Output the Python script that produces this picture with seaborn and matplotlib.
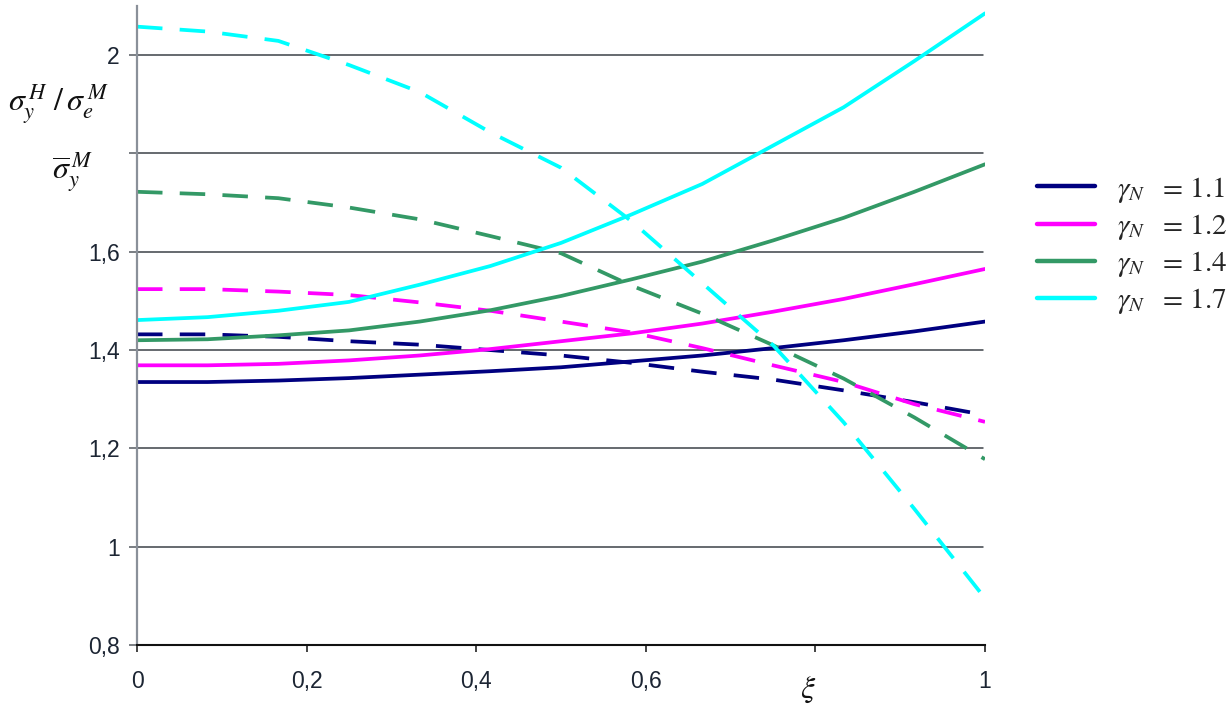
import numpy as np
import pandas as pd
import matplotlib
matplotlib.use("Agg")
import matplotlib.pyplot as plt
from matplotlib.lines import Line2D
import seaborn as sns

# Relative coordinate along the element
xi = [0, 1/12, 2/12, 3/12, 4/12, 5/12, 6/12, 7/12, 8/12, 9/12, 10/12, 11/12, 1]

# Solid curves: sigma_y^H / sigma_e^M
solid_11 = [1.335, 1.335, 1.338, 1.343, 1.350, 1.357, 1.365, 1.377, 1.389, 1.404, 1.420, 1.438, 1.458]
solid_12 = [1.369, 1.369, 1.372, 1.379, 1.389, 1.402, 1.418, 1.434, 1.454, 1.478, 1.504, 1.534, 1.565]
solid_14 = [1.420, 1.422, 1.430, 1.440, 1.458, 1.481, 1.510, 1.544, 1.580, 1.623, 1.669, 1.722, 1.778]
solid_17 = [1.461, 1.467, 1.480, 1.498, 1.533, 1.571, 1.618, 1.676, 1.738, 1.816, 1.894, 1.988, 2.085]

# Dashed curves: normalised yield stress sigma_y^M
dashed_11 = [1.432, 1.432, 1.427, 1.418, 1.411, 1.400, 1.389, 1.374, 1.356, 1.340, 1.318, 1.294, 1.268]
dashed_12 = [1.524, 1.524, 1.519, 1.512, 1.497, 1.480, 1.458, 1.436, 1.404, 1.369, 1.335, 1.290, 1.254]
dashed_14 = [1.722, 1.717, 1.709, 1.690, 1.666, 1.632, 1.597, 1.531, 1.474, 1.410, 1.342, 1.263, 1.178]
dashed_17 = [2.058, 2.048, 2.029, 1.980, 1.925, 1.843, 1.771, 1.662, 1.536, 1.410, 1.253, 1.077, 0.895]

gammas = ["1.1", "1.2", "1.4", "1.7"]
colors = ["#000080", "#FF00FF", "#339966", "#00FFFF"]

y_ticks = [0.8, 1.0, 1.2, 1.4, 1.6, 1.8, 2.0]
y_tick_labels = ["0,8", "1", "1,2", "1,4", "1,6", "", "2"]
x_ticks = [0, 0.2, 0.4, 0.6, 0.8, 1.0]
x_tick_labels = ["0", "0,2", "0,4", "0,6", "", "1"]

solids = [solid_11, solid_12, solid_14, solid_17]
dasheds = [dashed_11, dashed_12, dashed_14, dashed_17]

rows = []
for g, s, d in zip(gammas, solids, dasheds):
    for x, v in zip(xi, s):
        rows.append({"xi": x, "value": v, "gamma": g, "kind": "solid"})
    for x, v in zip(xi, d):
        rows.append({"xi": x, "value": v, "gamma": g, "kind": "dashed"})
df = pd.DataFrame(rows)

sns.set_theme(style="white")
plt.rcParams["font.family"] = ["Liberation Sans", "DejaVu Sans"]
plt.rcParams["mathtext.fontset"] = "stix"

fig = plt.figure(figsize=(12.29, 7.06), dpi=100)
ax = fig.add_axes([137 / 1229, 1 - 645 / 706, 848 / 1229, 639 / 706])

# horizontal grid
for yv in y_ticks[1:]:
    ax.axhline(yv, color="#3c4148", lw=1.1, zorder=0, xmax=0.998)

sns.lineplot(
    data=df, x="xi", y="value", hue="gamma", style="kind",
    palette=dict(zip(gammas, colors)),
    dashes={"solid": "", "dashed": (6.8, 4.6)},
    style_order=["solid", "dashed"],
    hue_order=gammas,
    linewidth=2.7, sort=False, estimator=None, legend=False, ax=ax,
)

ax.set_xlim(0, 1)
ax.set_ylim(0.8, 2.1)
ax.set_xticks(x_ticks)
ax.set_xticklabels(x_tick_labels)
ax.set_yticks(y_ticks)
ax.set_yticklabels(y_tick_labels)
ax.set_xlabel("")
ax.set_ylabel("")

for side in ["top", "right"]:
    ax.spines[side].set_visible(False)
ax.spines["left"].set_color("#8a9099")
ax.spines["left"].set_linewidth(1.6)
ax.spines["bottom"].set_color("#111111")
ax.spines["bottom"].set_linewidth(1.5)

ax.tick_params(axis="x", direction="out", length=5, width=1.1, color="#111111",
               pad=13, labelsize=16.5, labelcolor="#1c2533", bottom=True)
ax.tick_params(axis="y", direction="out", length=5.5, width=1.1, color="#555a60",
               pad=7, labelsize=16.5, labelcolor="#1c2533", left=True)

# axis titles written in the tick-label area
fig.text(8 / 1229, 1 - 104 / 706, r"$\sigma_y^{\,H}\ /\,\sigma_e^{\,M}$", fontsize=23,
         ha="left", va="center", color="#111111")
fig.text(52 / 1229, 1 - 172 / 706, r"$\overline{\sigma}_y^{\,M}$", fontsize=23,
         ha="left", va="center", color="#111111")
fig.text(808 / 1229, 1 - 690 / 706, r"$\xi$", fontsize=23, ha="center", va="center",
         color="#111111")

handles = [Line2D([], [], color=c, lw=3.2) for c in colors]
labels = [r"$\gamma_N\ \ {=}\,1.%s$" % g.split(".")[1] for g in gammas]
fig.legend(handles, labels, loc="upper left", bbox_to_anchor=(1022 / 1229, 1 - 160 / 706),
           frameon=False, fontsize=21, handlelength=2.0, handletextpad=0.75,
           labelspacing=0.25, borderpad=0)

fig.savefig("out.png", dpi=100)
